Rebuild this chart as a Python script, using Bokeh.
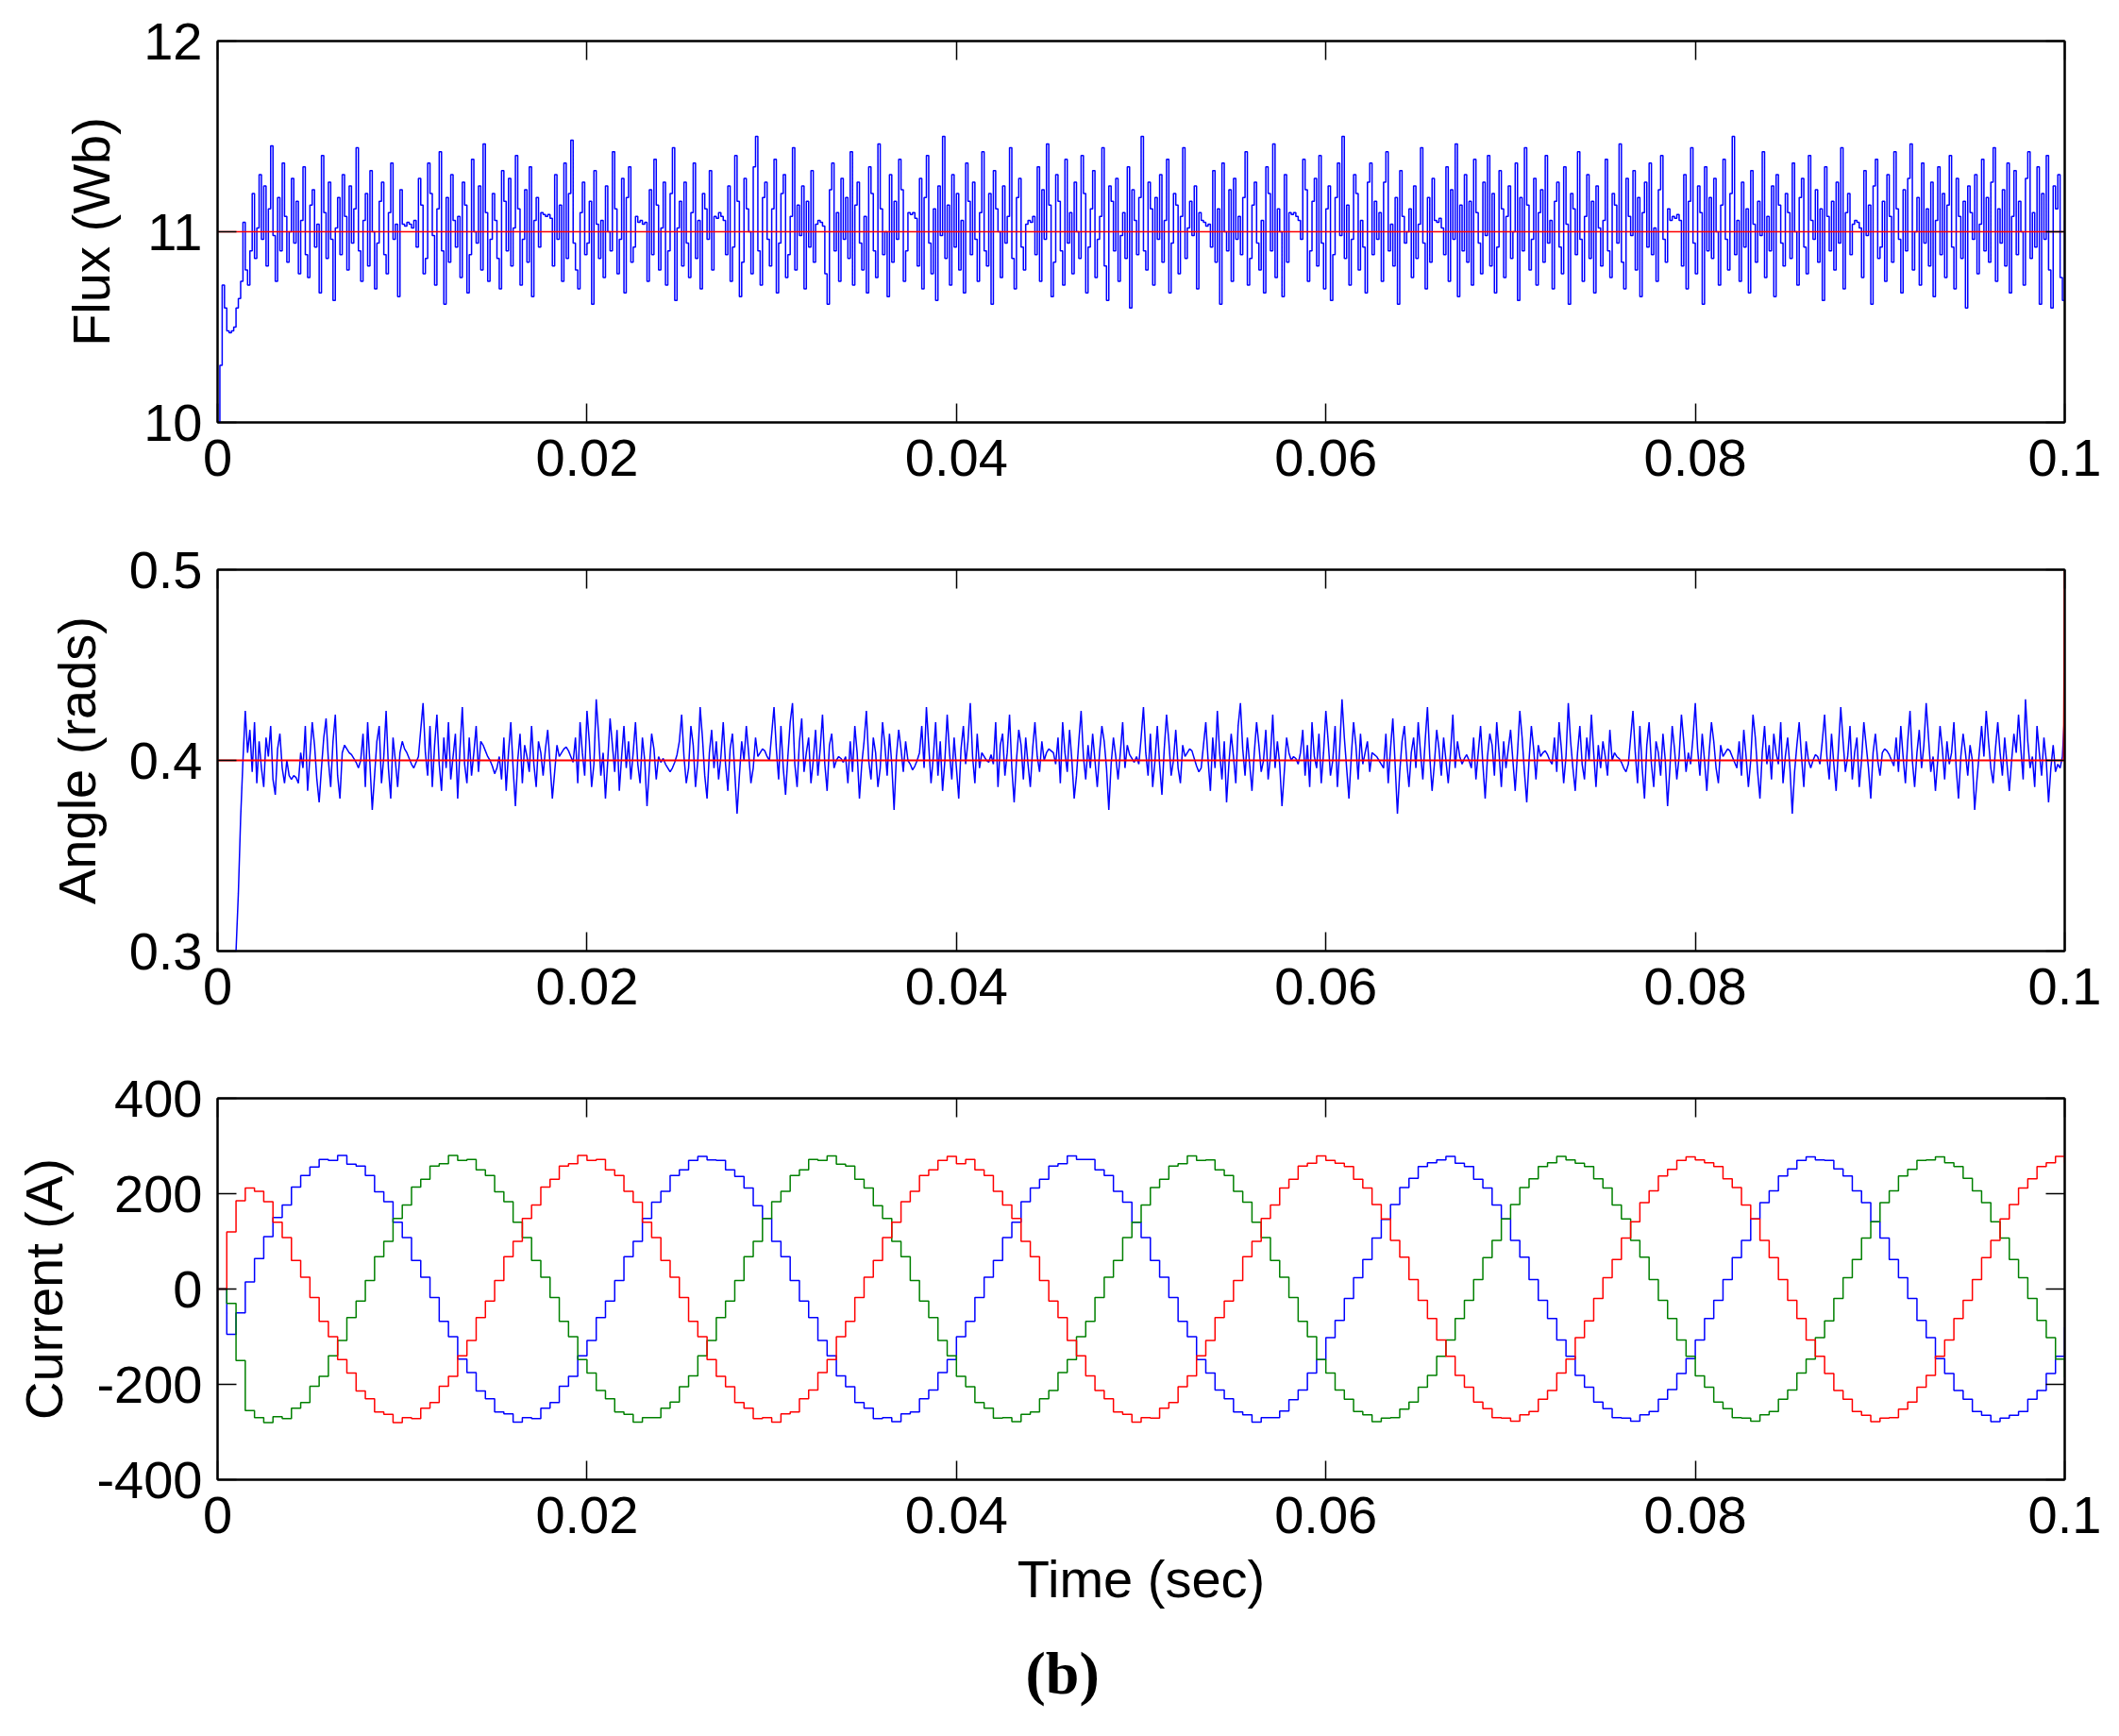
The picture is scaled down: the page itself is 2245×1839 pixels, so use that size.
import numpy as np
from bokeh.plotting import figure
from bokeh.layouts import column
from bokeh.models import Range1d, FixedTicker, LinearAxis, Title
from bokeh.embed import file_html
from bokeh.resources import INLINE

# ---------------- data ----------------
x_ticks = [0, 0.02, 0.04, 0.06, 0.08, 0.1]
x_tick_labels = {0: "0", 0.02: "0.02", 0.04: "0.04", 0.06: "0.06", 0.08: "0.08", 0.1: "0.1"}
t_end = 0.1

flux_ticks = [10, 11, 12]
flux_ref = [11.0, 11.0]
flux = [
    10.00, 10.30, 10.72, 10.60, 10.48, 10.47, 10.48, 10.50, 10.60, 10.65, 10.74, 11.05, 10.80, 10.72, 10.90, 11.20, 10.86, 11.02, 11.30, 10.96,
    11.24, 10.82, 11.12, 11.45, 10.98, 10.74, 11.18, 10.90, 11.36, 11.08, 10.84, 11.00, 11.28, 10.94, 11.16, 10.78, 11.06, 11.34, 10.88, 10.76,
    11.14, 11.22, 10.92, 11.04, 10.68, 11.40, 11.10, 10.86, 11.26, 10.96, 10.64, 11.02, 11.18, 10.88, 11.30, 11.08, 10.80, 11.24, 10.94, 11.12,
    11.44, 10.90, 10.74, 11.06, 11.20, 10.82, 11.32, 11.00, 10.70, 10.94, 11.16, 11.26, 10.88, 10.78, 11.10, 11.36, 10.96, 11.04, 10.66, 11.22,
    11.04, 11.03, 11.05, 11.04, 11.02, 11.06, 10.92, 11.28, 11.14, 10.78, 10.86, 11.36, 11.20, 10.98, 10.72, 11.12, 11.42, 10.90, 10.62, 11.18,
    10.84, 11.30, 11.06, 10.92, 11.08, 10.76, 11.26, 11.14, 10.68, 10.88, 11.38, 11.00, 10.94, 11.24, 10.80, 11.46, 11.10, 10.74, 10.96, 11.20,
    11.06, 10.86, 10.70, 11.32, 11.16, 10.90, 11.28, 10.82, 11.02, 11.40, 11.12, 10.72, 10.96, 11.22, 10.84, 11.34, 10.66, 11.06, 11.18, 10.92,
    11.10, 11.09, 11.08, 11.09, 11.07, 10.82, 11.30, 10.96, 11.14, 10.74, 11.36, 10.86, 11.20, 11.48, 10.94, 10.80, 10.70, 11.10, 11.26, 10.88,
    10.94, 11.16, 10.62, 11.32, 11.04, 10.86, 11.06, 10.76, 11.24, 11.00, 10.90, 11.42, 11.12, 10.78, 10.96, 11.28, 10.68, 11.18, 11.34, 10.84,
    10.92, 11.08, 11.05, 11.06, 11.04, 11.05, 10.74, 11.22, 10.88, 11.38, 11.14, 10.80, 11.02, 11.26, 10.72, 10.90, 11.20, 11.44, 10.64, 11.02,
    11.16, 10.82, 11.26, 10.94, 10.76, 11.10, 11.36, 10.86, 11.06, 10.70, 11.20, 11.12, 10.96, 11.32, 10.80, 11.08, 11.07, 11.10, 11.08, 11.06,
    10.88, 11.24, 10.74, 10.92, 11.40, 11.16, 10.66, 10.84, 11.28, 11.12, 11.00, 10.78, 11.34, 11.50, 10.90, 10.72, 11.18, 11.26, 10.96, 10.82,
    11.12, 11.38, 10.68, 10.94, 11.20, 11.30, 10.76, 10.88, 11.08, 11.44, 10.80, 11.14, 10.98, 11.24, 10.70, 11.16, 10.92, 11.32, 10.84, 11.04,
    11.06, 11.05, 11.03, 10.78, 10.62, 11.22, 11.36, 10.90, 11.10, 10.74, 11.28, 10.96, 11.18, 10.86, 11.42, 10.72, 11.14, 11.26, 10.94, 10.80,
    11.08, 10.68, 11.34, 11.20, 10.90, 10.76, 11.46, 11.12, 10.88, 11.00, 10.66, 11.30, 10.84, 11.16, 10.96, 11.38, 11.22, 10.74, 10.90, 11.10,
    11.09, 11.10, 11.07, 10.82, 11.28, 10.70, 11.18, 11.40, 10.94, 10.78, 11.12, 10.64, 11.24, 10.98, 11.50, 10.86, 11.14, 10.72, 11.30, 10.92,
    11.20, 10.80, 11.06, 10.68, 11.36, 11.16, 10.88, 11.26, 10.96, 10.74, 11.10, 11.42, 10.90, 10.82, 11.20, 10.62, 11.32, 11.12, 11.00, 10.76,
    11.24, 10.94, 11.08, 11.44, 10.86, 10.70, 11.18, 11.28, 10.92, 10.80, 11.04, 11.06, 11.05, 11.08, 10.88, 11.34, 10.74, 11.22, 10.96, 11.46,
    11.14, 10.66, 10.84, 11.30, 11.16, 10.90, 10.72, 11.38, 10.94, 11.10, 10.78, 11.26, 11.00, 10.86, 11.40, 11.20, 10.68, 10.92, 11.12, 11.32,
    10.76, 10.96, 11.08, 11.44, 10.82, 10.64, 11.24, 11.16, 10.90, 11.28, 10.74, 10.98, 11.10, 10.86, 11.34, 10.60, 11.22, 11.06, 10.88, 11.18,
    11.50, 10.90, 10.80, 11.26, 11.12, 10.72, 11.18, 10.96, 11.30, 10.84, 11.06, 11.38, 10.68, 10.94, 11.20, 11.14, 10.78, 11.08, 11.44, 10.86,
    11.02, 11.16, 10.98, 11.24, 10.70, 11.10, 11.06, 11.05, 11.03, 11.04, 10.92, 11.32, 10.84, 11.12, 10.62, 11.36, 11.00, 10.90, 11.22, 10.74,
    11.28, 10.96, 11.08, 10.88, 11.18, 11.42, 10.72, 10.86, 11.14, 11.26, 10.94, 10.80, 11.06, 10.68, 11.34, 11.20, 10.90, 11.46, 10.76, 11.12,
    11.00, 10.66, 11.30, 10.84, 11.10, 11.09, 11.10, 11.08, 11.06, 10.96, 11.38, 11.22, 10.74, 10.90, 11.16, 11.28, 10.82, 11.40, 10.94, 10.70,
    11.12, 11.24, 10.64, 10.88, 11.18, 11.36, 10.98, 11.50, 10.86, 11.14, 10.72, 10.96, 11.30, 11.20, 10.80, 11.06, 10.92, 10.68, 11.26, 11.36,
    10.88, 11.16, 10.96, 11.10, 10.74, 11.26, 11.42, 10.90, 11.04, 10.82, 11.18, 10.62, 11.32, 11.08, 10.94, 11.00, 11.12, 10.76, 11.24, 10.86,
    11.04, 11.44, 10.94, 10.70, 11.18, 10.84, 11.28, 11.06, 11.05, 11.07, 11.02, 10.88, 11.34, 10.74, 11.22, 10.96, 11.46, 10.66, 11.14, 10.90,
    11.30, 10.84, 11.16, 10.72, 11.38, 11.10, 10.94, 10.78, 11.26, 10.98, 11.40, 10.82, 11.20, 10.68, 10.92, 11.32, 11.12, 10.76, 11.08, 11.24,
    10.86, 11.00, 11.36, 10.64, 11.18, 10.90, 11.44, 11.14, 10.80, 10.96, 11.28, 10.72, 11.10, 11.22, 10.84, 11.40, 10.94, 11.06, 10.70, 11.16,
    11.26, 10.92, 10.78, 11.34, 11.04, 10.62, 11.20, 11.12, 10.88, 11.42, 10.96, 10.74, 11.08, 11.30, 10.86, 11.16, 10.68, 11.24, 11.02, 10.82,
    11.06, 11.38, 10.90, 10.76, 11.20, 11.14, 10.94, 11.46, 10.84, 10.70, 11.28, 11.08, 10.98, 11.32, 10.80, 11.18, 10.66, 11.10, 11.26, 10.92,
    11.36, 10.88, 11.02, 10.74, 11.22, 11.40, 10.96, 10.84, 11.12, 11.06, 11.08, 11.07, 11.09, 11.06, 10.82, 11.30, 10.70, 11.16, 11.44, 10.94,
    10.78, 11.24, 11.10, 10.62, 11.34, 10.90, 11.18, 10.86, 11.28, 11.00, 10.72, 11.14, 11.38, 10.96, 10.80, 11.20, 11.50, 10.88, 11.06, 10.74,
    11.26, 10.92, 11.12, 10.68, 11.32, 11.04, 10.84, 11.16, 10.98, 11.42, 10.76, 11.08, 10.90, 11.24, 10.66, 11.30, 11.14, 10.94, 10.82, 11.20,
    11.10, 10.86, 11.36, 11.00, 10.72, 11.18, 11.28, 10.92, 10.78, 11.40, 11.06, 10.96, 11.22, 10.84, 11.12, 10.64, 11.34, 11.08, 10.90, 11.16,
    10.80, 11.26, 10.94, 11.44, 10.70, 11.10, 11.20, 10.88, 11.04, 11.06, 11.05, 11.02, 10.76, 11.32, 10.98, 11.14, 10.62, 11.24, 11.38, 10.86,
    10.92, 11.16, 10.74, 11.30, 11.08, 10.84, 11.42, 11.12, 10.96, 10.68, 11.22, 10.90, 11.28, 11.46, 10.80, 11.00, 11.18, 10.72, 11.36, 10.94,
    11.12, 10.82, 11.26, 10.66, 11.06, 11.34, 10.88, 11.20, 10.76, 11.14, 11.40, 10.92, 10.70, 11.28, 11.08, 10.86, 11.16, 10.60, 11.24, 11.10,
    10.96, 11.30, 10.78, 11.04, 11.38, 10.90, 11.18, 10.84, 11.26, 11.44, 10.74, 11.12, 10.94, 11.22, 10.82, 11.36, 10.68, 11.08, 11.32, 10.88,
    11.16, 11.00, 10.72, 11.28, 11.42, 10.86, 11.10, 10.92, 11.34, 10.62, 11.20, 10.96, 11.40, 10.80, 10.60, 11.24, 11.12, 11.30, 10.76, 10.64,
    11.06,
]

angle_ticks = [0.3, 0.4, 0.5]
angle_ref_t = [0.0, 0.09995, 0.1]
angle_ref = [0.4, 0.4, 0.5]
angle = [
    0.100, 0.150, 0.200, 0.240, 0.260, 0.280, 0.290, 0.295, 0.300, 0.330, 0.370, 0.400, 0.426, 0.404, 0.416, 0.394, 0.420, 0.388, 0.410, 0.396,
    0.386, 0.412, 0.402, 0.418, 0.390, 0.382, 0.406, 0.414, 0.396, 0.388, 0.400, 0.392, 0.390, 0.392, 0.391, 0.388, 0.404, 0.396, 0.418, 0.384,
    0.402, 0.420, 0.408, 0.390, 0.378, 0.396, 0.412, 0.422, 0.400, 0.386, 0.410, 0.424, 0.392, 0.380, 0.404, 0.408, 0.406, 0.404, 0.403, 0.401,
    0.399, 0.396, 0.400, 0.414, 0.386, 0.420, 0.398, 0.374, 0.392, 0.410, 0.418, 0.388, 0.402, 0.426, 0.396, 0.380, 0.412, 0.400, 0.386, 0.404,
    0.410, 0.406, 0.404, 0.401, 0.398, 0.396, 0.399, 0.402, 0.416, 0.430, 0.404, 0.392, 0.418, 0.386, 0.408, 0.424, 0.398, 0.384, 0.412, 0.396,
    0.420, 0.390, 0.402, 0.414, 0.380, 0.406, 0.428, 0.398, 0.388, 0.412, 0.392, 0.404, 0.418, 0.394, 0.410, 0.408, 0.405, 0.402, 0.400, 0.397,
    0.393, 0.396, 0.402, 0.390, 0.412, 0.384, 0.404, 0.420, 0.396, 0.376, 0.400, 0.414, 0.388, 0.408, 0.402, 0.394, 0.418, 0.398, 0.386, 0.410,
    0.404, 0.392, 0.406, 0.416, 0.398, 0.380, 0.394, 0.408, 0.402, 0.404, 0.406, 0.407, 0.405, 0.402, 0.399, 0.412, 0.388, 0.420, 0.404, 0.392,
    0.426, 0.410, 0.386, 0.398, 0.432, 0.414, 0.392, 0.404, 0.380, 0.400, 0.422, 0.408, 0.394, 0.416, 0.384, 0.402, 0.418, 0.396, 0.410, 0.390,
    0.404, 0.420, 0.398, 0.388, 0.412, 0.400, 0.376, 0.396, 0.414, 0.406, 0.390, 0.402, 0.399, 0.401, 0.398, 0.396, 0.394, 0.396, 0.399, 0.403,
    0.410, 0.424, 0.402, 0.388, 0.396, 0.418, 0.408, 0.386, 0.400, 0.428, 0.412, 0.392, 0.380, 0.404, 0.416, 0.396, 0.410, 0.390, 0.402, 0.420,
    0.398, 0.384, 0.406, 0.414, 0.394, 0.372, 0.392, 0.410, 0.400, 0.418, 0.404, 0.388, 0.396, 0.412, 0.402, 0.404, 0.406, 0.405, 0.402, 0.400,
    0.414, 0.428, 0.406, 0.390, 0.418, 0.396, 0.382, 0.402, 0.420, 0.430, 0.398, 0.386, 0.410, 0.422, 0.394, 0.404, 0.412, 0.388, 0.400, 0.416,
    0.392, 0.406, 0.424, 0.398, 0.384, 0.408, 0.414, 0.396, 0.400, 0.402, 0.401, 0.399, 0.402, 0.388, 0.410, 0.394, 0.418, 0.404, 0.380, 0.398,
    0.410, 0.426, 0.400, 0.390, 0.412, 0.404, 0.386, 0.396, 0.420, 0.408, 0.392, 0.414, 0.398, 0.374, 0.402, 0.416, 0.406, 0.394, 0.410, 0.400,
    0.398, 0.395, 0.397, 0.400, 0.404, 0.418, 0.396, 0.428, 0.408, 0.388, 0.402, 0.420, 0.392, 0.410, 0.384, 0.400, 0.424, 0.404, 0.390, 0.412,
    0.396, 0.380, 0.406, 0.418, 0.398, 0.410, 0.430, 0.402, 0.388, 0.414, 0.396, 0.404, 0.402, 0.400, 0.399, 0.403, 0.398, 0.420, 0.386, 0.408,
    0.414, 0.392, 0.404, 0.424, 0.396, 0.378, 0.400, 0.416, 0.408, 0.390, 0.412, 0.398, 0.386, 0.406, 0.420, 0.402, 0.394, 0.410, 0.400, 0.404,
    0.406, 0.405, 0.404, 0.398, 0.412, 0.388, 0.420, 0.404, 0.394, 0.416, 0.400, 0.380, 0.392, 0.410, 0.426, 0.402, 0.390, 0.408, 0.396, 0.414,
    0.400, 0.386, 0.404, 0.418, 0.410, 0.396, 0.374, 0.398, 0.412, 0.402, 0.390, 0.404, 0.420, 0.396, 0.408, 0.403, 0.401, 0.399, 0.402, 0.398,
    0.412, 0.428, 0.404, 0.392, 0.414, 0.386, 0.400, 0.418, 0.398, 0.382, 0.406, 0.424, 0.410, 0.392, 0.400, 0.416, 0.396, 0.388, 0.408, 0.402,
    0.404, 0.406, 0.405, 0.401, 0.397, 0.394, 0.396, 0.408, 0.420, 0.400, 0.384, 0.412, 0.396, 0.426, 0.404, 0.390, 0.410, 0.378, 0.398, 0.414,
    0.402, 0.388, 0.418, 0.430, 0.406, 0.392, 0.412, 0.398, 0.384, 0.404, 0.420, 0.408, 0.394, 0.400, 0.416, 0.390, 0.402, 0.424, 0.396, 0.410,
    0.398, 0.376, 0.394, 0.412, 0.404, 0.400, 0.402, 0.401, 0.398, 0.404, 0.416, 0.392, 0.408, 0.386, 0.420, 0.402, 0.396, 0.414, 0.388, 0.404,
    0.426, 0.410, 0.392, 0.400, 0.418, 0.386, 0.406, 0.432, 0.412, 0.396, 0.380, 0.402, 0.420, 0.408, 0.390, 0.414, 0.398, 0.404, 0.410, 0.394,
    0.404, 0.403, 0.402, 0.400, 0.398, 0.396, 0.414, 0.388, 0.406, 0.422, 0.398, 0.372, 0.394, 0.410, 0.418, 0.400, 0.386, 0.404, 0.412, 0.396,
    0.420, 0.404, 0.390, 0.410, 0.428, 0.402, 0.384, 0.398, 0.416, 0.406, 0.392, 0.412, 0.400, 0.388, 0.404, 0.424, 0.396, 0.410, 0.402, 0.398,
    0.401, 0.403, 0.400, 0.396, 0.412, 0.390, 0.404, 0.418, 0.398, 0.380, 0.402, 0.414, 0.408, 0.392, 0.420, 0.404, 0.386, 0.410, 0.396, 0.406,
    0.416, 0.400, 0.384, 0.404, 0.426, 0.412, 0.394, 0.378, 0.400, 0.418, 0.406, 0.390, 0.408, 0.402, 0.404, 0.405, 0.403, 0.400, 0.398, 0.412,
    0.394, 0.420, 0.406, 0.388, 0.402, 0.430, 0.410, 0.396, 0.384, 0.404, 0.418, 0.398, 0.390, 0.412, 0.400, 0.424, 0.404, 0.386, 0.408, 0.396,
    0.410, 0.402, 0.392, 0.416, 0.400, 0.404, 0.402, 0.401, 0.399, 0.396, 0.394, 0.398, 0.412, 0.426, 0.404, 0.388, 0.418, 0.396, 0.380, 0.408,
    0.420, 0.398, 0.386, 0.410, 0.404, 0.392, 0.414, 0.400, 0.376, 0.396, 0.418, 0.406, 0.390, 0.402, 0.424, 0.410, 0.394, 0.404, 0.398, 0.412,
    0.430, 0.406, 0.392, 0.414, 0.400, 0.384, 0.404, 0.420, 0.410, 0.396, 0.388, 0.408, 0.402, 0.404, 0.406, 0.405, 0.402, 0.399, 0.396, 0.410,
    0.392, 0.416, 0.402, 0.386, 0.400, 0.424, 0.412, 0.394, 0.380, 0.404, 0.418, 0.398, 0.408, 0.390, 0.414, 0.404, 0.398, 0.420, 0.388, 0.402,
    0.412, 0.396, 0.372, 0.394, 0.408, 0.420, 0.402, 0.386, 0.410, 0.400, 0.396, 0.400, 0.403, 0.402, 0.398, 0.410, 0.424, 0.402, 0.390, 0.414,
    0.398, 0.384, 0.406, 0.428, 0.410, 0.394, 0.402, 0.418, 0.390, 0.404, 0.412, 0.386, 0.400, 0.420, 0.408, 0.396, 0.380, 0.404, 0.414, 0.400,
    0.392, 0.404, 0.406, 0.405, 0.403, 0.400, 0.397, 0.412, 0.394, 0.418, 0.402, 0.388, 0.410, 0.426, 0.400, 0.386, 0.404, 0.416, 0.396, 0.408,
    0.430, 0.412, 0.394, 0.402, 0.384, 0.400, 0.418, 0.406, 0.390, 0.410, 0.398, 0.404, 0.420, 0.396, 0.380, 0.402, 0.414, 0.404, 0.392, 0.408,
    0.400, 0.374, 0.390, 0.404, 0.418, 0.402, 0.426, 0.410, 0.396, 0.388, 0.406, 0.420, 0.404, 0.392, 0.412, 0.398, 0.384, 0.400, 0.414, 0.404,
    0.424, 0.406, 0.390, 0.432, 0.410, 0.396, 0.402, 0.386, 0.418, 0.404, 0.392, 0.412, 0.400, 0.378, 0.396, 0.408, 0.394, 0.398, 0.396, 0.402,
    0.426,
]

current_ticks = [-400, -200, 0, 200, 400]
current_tick_labels = {-400: "-400", -200: "-200", 0: "0", 200: "200", 400: "400"}
i_blue = [
    0, -95, -50, 15, 64, 110, 150, 176, 214, 238, 256, 272, 270, 280, 262, 258, 238, 204, 183, 140,
    108, 60, 25, -18, -68, -100, -147, -175, -214, -230, -258, -262, -279, -270, -272, -250, -238, -204, -183, -140,
    -108, -60, -25, 18, 68, 100, 148, 182, 205, 238, 250, 270, 278, 271, 270, 250, 236, 212, 175, 148,
    100, 68, 18, -25, -60, -108, -140, -182, -205, -238, -250, -272, -270, -278, -262, -258, -230, -212, -175, -148,
    -100, -68, -18, 25, 60, 108, 140, 183, 212, 230, 258, 263, 279, 272, 272, 250, 238, 205, 182, 140,
    108, 60, 25, -18, -68, -100, -148, -176, -212, -230, -258, -264, -279, -270, -270, -256, -232, -212, -176, -148,
    -102, -66, -20, 24, 62, 107, 146, 177, 213, 232, 257, 265, 271, 278, 264, 257, 230, 212, 176, 147,
    102, 67, 20, -24, -62, -107, -141, -181, -206, -237, -251, -270, -271, -277, -264, -257, -231, -211, -177, -146,
    -107, -62, -24, 20, 66, 102, 147, 181, 206, 237, 252, 270, 277, 271, 270, 252, 237, 206, 181, 141,
    107, 62, 24, -20, -66, -102, -146, -177, -213, -231, -257, -265, -278, -271, -265, -257, -231, -213, -177, -141,
    -80,
]
i_green = [
    0, -30, -150, -255, -270, -280, -268, -272, -250, -238, -204, -183, -140, -108, -60, -25, 18, 68, 100, 148,
    176, 214, 230, 258, 263, 280, 270, 272, 250, 238, 204, 183, 140, 108, 60, 25, -18, -68, -100, -148,
    -176, -213, -230, -258, -263, -279, -270, -270, -250, -237, -205, -182, -140, -108, -60, -25, 18, 68, 100, 148,
    183, 205, 238, 250, 272, 270, 279, 262, 258, 230, 212, 175, 148, 100, 68, 18, -25, -60, -108, -140,
    -183, -205, -238, -250, -271, -270, -278, -263, -258, -230, -213, -175, -148, -100, -68, -18, 25, 60, 108, 140,
    176, 213, 230, 258, 263, 279, 270, 271, 250, 238, 205, 182, 140, 108, 60, 25, -18, -68, -100, -148,
    -176, -212, -231, -257, -264, -278, -271, -270, -252, -237, -206, -181, -141, -107, -62, -24, 20, 66, 102, 147,
    177, 213, 231, 257, 265, 278, 271, 264, 257, 231, 212, 176, 147, 102, 67, 20, -24, -62, -107, -141,
    -182, -206, -237, -251, -270, -271, -277, -264, -257, -231, -212, -176, -147, -102, -67, -20, 24, 62, 107, 141,
    181, 206, 237, 251, 270, 271, 277, 265, 257, 232, 206, 181, 141, 107, 62, 24, -20, -66, -102, -147,
    -185,
]
i_red = [
    0, 120, 185, 212, 205, 183, 140, 108, 60, 25, -18, -68, -100, -148, -176, -214, -230, -258, -263, -280,
    -270, -272, -250, -238, -204, -183, -140, -108, -60, -25, 18, 68, 100, 148, 176, 214, 230, 258, 263, 280,
    270, 272, 250, 238, 205, 182, 140, 108, 60, 25, -18, -68, -100, -148, -183, -205, -238, -250, -272, -270,
    -279, -262, -258, -230, -212, -175, -148, -100, -68, -18, 25, 60, 108, 140, 183, 205, 238, 250, 270, 278,
    263, 272, 250, 238, 205, 176, 148, 100, 68, 18, -25, -60, -108, -140, -182, -213, -230, -258, -263, -279,
    -270, -271, -250, -238, -205, -182, -140, -108, -60, -25, 18, 68, 100, 148, 176, 212, 230, 258, 264, 279,
    270, 264, 257, 230, 212, 177, 147, 102, 67, 20, -24, -62, -107, -141, -181, -206, -237, -251, -270, -271,
    -277, -264, -257, -231, -213, -176, -147, -102, -67, -20, 24, 62, 107, 141, 181, 206, 237, 251, 270, 277,
    271, 265, 257, 231, 213, 176, 147, 102, 66, 20, -24, -62, -107, -141, -177, -213, -231, -257, -265, -278,
    -271, -270, -252, -237, -206, -181, -141, -107, -62, -24, 20, 66, 102, 147, 177, 212, 231, 257, 265, 278,
    265,
]

# ---------------- styling ----------------
FONT = "Liberation Sans"
FS = "56px"
W = 2240
BORDER_L = 230
BORDER_T = 43
FRAME_H = 404
BLUE = "#0000ff"
RED = "#ff0000"
GREEN = "#008000"


def style_axis(ax, show_labels):
    ax.major_tick_in = 20
    ax.major_tick_out = 0
    ax.minor_tick_line_color = None
    ax.axis_line_color = "black"
    ax.axis_line_width = 2
    ax.major_tick_line_color = "black"
    ax.major_tick_line_width = 1.5
    ax.major_label_text_font = FONT
    if show_labels:
        ax.major_label_text_font_size = FS
        ax.major_label_text_color = "black"
    else:
        ax.major_label_text_font_size = "0px"
        ax.major_label_text_color = None
        ax.major_label_standoff = 0
    ax.axis_label_text_font = FONT
    ax.axis_label_text_font_size = FS
    ax.axis_label_text_font_style = "normal"
    ax.axis_label_text_color = "black"


def make_fig(height, y0, y1, y_ticks, ylabel, y_overrides=None, xlabel=None):
    p = figure(width=W, height=height, output_backend="svg", toolbar_location=None,
               x_range=Range1d(0, t_end), y_range=Range1d(y0, y1),
               x_axis_type=None, y_axis_type=None,
               min_border_left=BORDER_L, min_border_right=W - BORDER_L - 1957,
               min_border_top=BORDER_T, min_border_bottom=height - BORDER_T - FRAME_H)
    p.outline_line_color = "black"
    p.outline_line_width = 2
    p.background_fill_color = "white"
    p.border_fill_color = "white"

    xb = LinearAxis(ticker=FixedTicker(ticks=x_ticks), major_label_overrides=x_tick_labels)
    style_axis(xb, True)
    xb.major_label_standoff = 18
    if xlabel:
        xb.axis_label = xlabel
        xb.axis_label_standoff = 14
    p.add_layout(xb, "below")

    xt = LinearAxis(ticker=FixedTicker(ticks=x_ticks))
    style_axis(xt, False)
    p.add_layout(xt, "above")

    yl = LinearAxis(ticker=FixedTicker(ticks=y_ticks), axis_label=ylabel)
    if y_overrides:
        yl.major_label_overrides = y_overrides
    style_axis(yl, True)
    yl.major_label_standoff = 16
    yl.axis_label_standoff = 21
    p.add_layout(yl, "left")

    yr = LinearAxis(ticker=FixedTicker(ticks=y_ticks))
    style_axis(yr, False)
    p.add_layout(yr, "right")
    return p


# Panel 1: flux
p1 = make_fig(560, 10, 12, flux_ticks, "Flux (Wb)")
t_flux = np.linspace(0, t_end, len(flux))
p1.step(t_flux, flux, mode="after", line_color=BLUE, line_width=1.5)
p1.line([0, t_end], flux_ref, line_color=RED, line_width=1.6)

# Panel 2: angle
p2 = make_fig(560, 0.3, 0.5, angle_ticks, "Angle (rads)")
t_angle = np.linspace(0, t_end, len(angle))
p2.line(t_angle, angle, line_color=BLUE, line_width=1.5)
p2.line(angle_ref_t, angle_ref, line_color=RED, line_width=2)

# Panel 3: currents
p3 = make_fig(719, -400, 400, current_ticks, "Current (A)",
              y_overrides=current_tick_labels, xlabel="Time (sec)")
p3.step(np.linspace(0, t_end, len(i_blue)), i_blue, mode="after", line_color=BLUE, line_width=1.5)
p3.step(np.linspace(0, t_end, len(i_green)), i_green, mode="after", line_color=GREEN, line_width=1.5)
p3.step(np.linspace(0, t_end, len(i_red)), i_red, mode="after", line_color=RED, line_width=1.5)

p3.add_layout(Title(text="(b)", align="left", offset=856, standoff=56,
                    text_font="Liberation Serif", text_font_style="bold",
                    text_font_size="64px", text_color="black"), "below")

layout = column(p1, p2, p3, spacing=0)

with open("out.html", "w") as f:
    f.write(file_html(layout, INLINE))
